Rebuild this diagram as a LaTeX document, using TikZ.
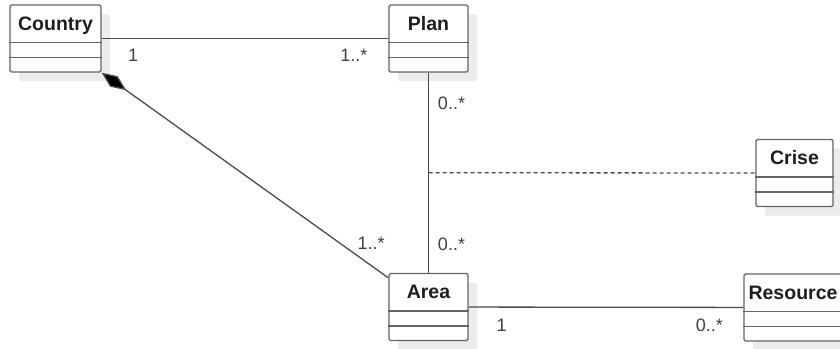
\documentclass[tikz,border=0pt]{standalone}
\usepackage{fontspec}
\setmainfont{Liberation Sans}
\usepackage{xcolor}
\usepackage{tikz}
\usetikzlibrary{arrows.meta,positioning,shadows,calc}
\definecolor{umlline}{RGB}{75,75,75}
\definecolor{umlbox}{RGB}{100,100,100}
\definecolor{umltext}{RGB}{30,30,30}
\definecolor{umlshadow}{RGB}{236,236,236}

\begin{document}
\begin{tikzpicture}[x=1pt,y=-1pt,>=Stealth,
    cls/.style={rectangle,draw=umlbox,line width=1.4pt,rounded corners=1.5pt,fill=white,
      minimum height=67pt,inner sep=0pt,text height=25pt,text depth=42pt,
      font=\fontsize{19.5}{22}\selectfont\bfseries,text=umltext,
      drop shadow={shadow xshift=9pt,shadow yshift=-9pt,fill=umlshadow,opacity=1}},
    rule/.style={draw=umlbox,line width=1.4pt},
    assoc/.style={draw=umlline,line width=1.3pt},
    mult/.style={font=\fontsize{18}{20}\selectfont,text=umltext!85,inner sep=0pt}]
  \useasboundingbox (0,0) rectangle (840,348);
  % classes
  \node[cls,minimum width=91pt] (country) at (55.5,38.5) {Country};
  \node[cls,minimum width=79pt] (plan) at (428.5,38.5) {Plan};
  \node[cls,minimum width=77pt] (crise) at (794.5,173) {Crise};
  \node[cls,minimum width=79pt] (area) at (428.5,307) {Area};
  \node[cls,minimum width=98pt] (resource) at (793,307.5) {Resource};
  % compartments
  \foreach \c in {country,plan,crise,area,resource}{
    \draw[rule] ($(\c.north west)+(0,38)$) -- ($(\c.north east)+(0,38)$);
    \draw[rule] ($(\c.north west)+(0,53)$) -- ($(\c.north east)+(0,53)$);
  }
  % associations
  \draw[assoc] (country) -- node[mult,pos=0.11,yshift=-17pt] {1}
    node[mult,pos=0.88,yshift=-17pt] {1..*} (plan);
  \draw[assoc] (plan) -- node[mult,pos=0.154,xshift=23pt] {0..*}
    node[mult,pos=0.86,xshift=23pt] {0..*} (area);
  \draw[assoc] (area) -- node[mult,pos=0.12,yshift=-18pt] {1}
    node[mult,pos=0.876,yshift=-18pt] {0..*} (resource);
  % composition
  \coordinate (areain) at ($(area.north west)+(0,5)$);
  \draw[assoc,{Diamond[length=30pt,width=13pt,fill=black]}-] (country.south east) --
    node[mult,pos=0.94,yshift=22pt] {1..*} (areain);
  % association class
  \coordinate (mid) at ($(plan.south)!0.5!(area.north)$);
  \draw[assoc,dash pattern=on 4pt off 3pt] (mid) -- (crise);
\end{tikzpicture}
\end{document}
